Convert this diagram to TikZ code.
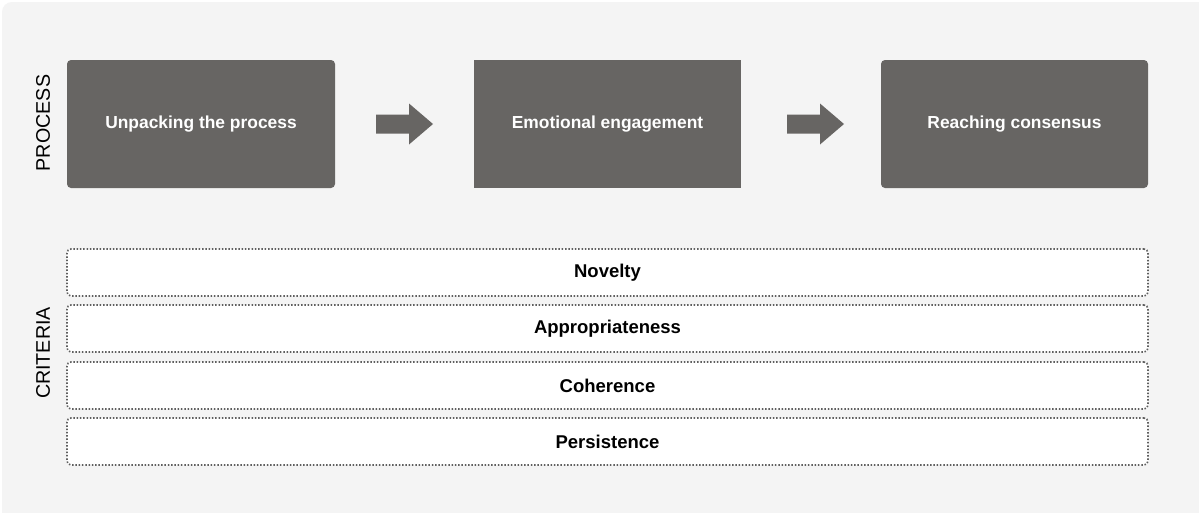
\documentclass[tikz,border=0pt]{standalone}
\usepackage{fontspec}
\setmainfont{Liberation Sans}
\usetikzlibrary{positioning, calc}

\definecolor{panelgray}{RGB}{244,244,244}
\definecolor{boxgray}{RGB}{103,101,99}
\definecolor{dotgray}{RGB}{95,95,95}

\begin{document}
\begin{tikzpicture}
        [
            x=1pt, y=-1pt,
            stage/.style={
                fill=boxgray,
                rounded corners=4pt,
                minimum width=268pt,
                minimum height=128pt,
                text=white,
                font=\fontsize{17.4}{19}\selectfont\bfseries
            },
            criterion/.style={
                draw=dotgray,
                fill=white,
                line width=1.6pt,
                dash pattern=on 1.5pt off 1.8pt,
                rounded corners=4pt,
                minimum width=1081pt,
                minimum height=47pt,
                font=\fontsize{18.5}{20}\selectfont\bfseries
            },
            rowlabel/.style={
                rotate=90,
                font=\fontsize{19.7}{21}\selectfont
            },
            flowarrow/.style={
                fill=boxgray
            }
         ]
        \clip (0,0) rectangle (1199,512);
        \fill[white] (0,0) rectangle (1199,512);
        \fill[panelgray, rounded corners=10pt] (2,2) rectangle (1215,525);

        % process row
        \node[stage] (unpack) at (201,124) {Unpacking the process};
        \node[stage, sharp corners, minimum width=267pt] (emotion) at (607.5,124) {Emotional engagement};
        \node[stage, minimum width=267pt] (consensus) at (1014.5,124) {Reaching consensus};

        \coordinate (arrA) at ($(unpack.east)!0.5!(emotion.west)$);
        \coordinate (arrB) at ([xshift=4.5]$(emotion.east)!0.5!(consensus.west)$);
        \foreach \a in {arrA, arrB}
            \fill[flowarrow] ([shift={(-28.5,-9.5)}]\a) -- ([shift={(4.5,-9.5)}]\a)
                -- ([shift={(4.5,-20.5)}]\a) -- ([shift={(28.5,0)}]\a)
                -- ([shift={(4.5,20.5)}]\a) -- ([shift={(4.5,9.5)}]\a)
                -- ([shift={(-28.5,9.5)}]\a) -- cycle;

        % criteria rows
        \foreach \name/\txt/\yy in {novelty/Novelty/272.5, approp/Appropriateness/328.5,
                                    coher/Coherence/385.5, persist/Persistence/441.5}
            \node[criterion] (\name) at (607.5,\yy) {\txt};

        \node[rowlabel] (proclabel) at (43,123) {PROCESS};
        \node[rowlabel] (critlabel) at (43,353) {CRITERIA};
    \end{tikzpicture}
\end{document}
